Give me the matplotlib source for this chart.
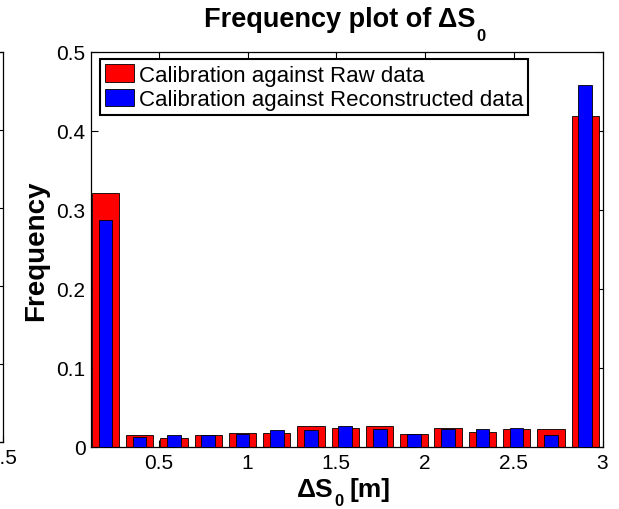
import numpy as np
import matplotlib
matplotlib.use("Agg")
import matplotlib.pyplot as plt
from matplotlib.transforms import IdentityTransform

plt.rcParams["font.family"] = ["Liberation Sans", "DejaVu Sans"]

# bin centres of Delta S0 [m]
bin_centres = [0.198, 0.391, 0.584, 0.778, 0.971, 1.164, 1.357, 1.550,
               1.744, 1.937, 2.130, 2.323, 2.516, 2.710, 2.903]
bin_width = 0.1932
freq_raw = [0.321, 0.0156, 0.011, 0.0148, 0.0173, 0.0173, 0.026, 0.024,
            0.026, 0.0165, 0.024, 0.0186, 0.0228, 0.0228, 0.419]
freq_recon = [0.287, 0.0131, 0.0148, 0.0148, 0.0165, 0.0215, 0.0215, 0.026,
              0.0228, 0.0165, 0.0228, 0.0228, 0.024, 0.0152, 0.458]
labels = ["Calibration against Raw data",
          "Calibration against Reconstructed data"]
x_ticks = [0.5, 1, 1.5, 2, 2.5, 3]
x_ticklabels = ["0.5", "1", "1.5", "2", "2.5", "3"]
y_ticks = [0, 0.1, 0.2, 0.3, 0.4, 0.5]
y_ticklabels = ["0", "0.1", "0.2", "0.3", "0.4", "0.5"]

W, H = 619, 510
fig = plt.figure(figsize=(W / 100, H / 100), dpi=100)

# main axes, pixel box
left, right, top, bottom = 91, 602.5, 53, 448
ax = fig.add_axes([left / W, 1 - bottom / H, (right - left) / W, (bottom - top) / H])

ax.bar(bin_centres, freq_raw, width=0.8 * bin_width, color="#ff0000",
       edgecolor="black", linewidth=0.6, label=labels[0], zorder=2)
ax.bar(bin_centres, freq_recon, width=0.4 * bin_width, color="#0000ff",
       edgecolor="black", linewidth=0.6, label=labels[1], zorder=3)

ax.set_xlim(0.117, 3.0)
ax.set_ylim(0, 0.5)
ax.set_xticks(x_ticks)
ax.set_xticklabels(x_ticklabels)
ax.set_yticks(y_ticks)
ax.set_yticklabels(y_ticklabels)
ax.tick_params(direction="in", length=5, width=0.8, top=True, right=True,
               labelsize=15, pad=4)
for sp in ax.spines.values():
    sp.set_linewidth(0.9)

ax.set_ylabel("Frequency", fontsize=20, fontweight="bold", labelpad=5)

leg = ax.legend(loc="upper left", bbox_to_anchor=(0.0176, 0.982),
                borderaxespad=0, fontsize=16, handlelength=1.3,
                handleheight=0.85, handletextpad=0.22, labelspacing=0.14,
                borderpad=0.22, fancybox=False, framealpha=1)
leg.get_frame().set_edgecolor("black")
leg.get_frame().set_linewidth(1.5)

# neighbouring subplot, only its right edge visible at the figure's left
ax0 = fig.add_axes([-0.5, 1 - 443 / H, 0.5 + 2.5 / W, (443 - 53) / H])
ax0.set_xlim(0, 2.5)
ax0.set_ylim(0, 0.5)
ax0.set_xticks([2.5])
ax0.set_xticklabels(["2.5"])
ax0.set_yticks([0, 0.1, 0.2, 0.3, 0.4, 0.5])
ax0.yaxis.tick_right()
ax0.tick_params(direction="in", length=5, width=0.8, labelright=False,
                labelsize=15, pad=4)
for sp in ax0.spines.values():
    sp.set_linewidth(0.9)


def text_with_sub(parts, x_centre, baseline):
    """MATLAB-like text with a big, low subscript; parts = (str, size, drop, gap)."""
    renderer = fig.canvas.get_renderer()
    items = []
    for s, size, drop, gap in parts:
        t = fig.text(0, 0, s, fontsize=size, fontweight="bold", ha="left",
                     va="baseline", transform=IdentityTransform())
        w = t.get_window_extent(renderer).width
        items.append((t, w, drop, gap))
    total = sum(w + gap for _, w, _, gap in items)
    x = x_centre - total / 2
    for t, w, drop, gap in items:
        x += gap
        t.set_position((x, H - (baseline + drop)))
        x += w


text_with_sub([("Frequency plot of \u0394S", 19.5, 0, 0), ("0", 12, 14, 1)],
              345, 27)
text_with_sub([("\u0394S", 19, 0, 0), ("0", 12, 9, 1), ("[m]", 19, 0, 6)],
              344, 497)

fig.savefig("out.png", dpi=100)
